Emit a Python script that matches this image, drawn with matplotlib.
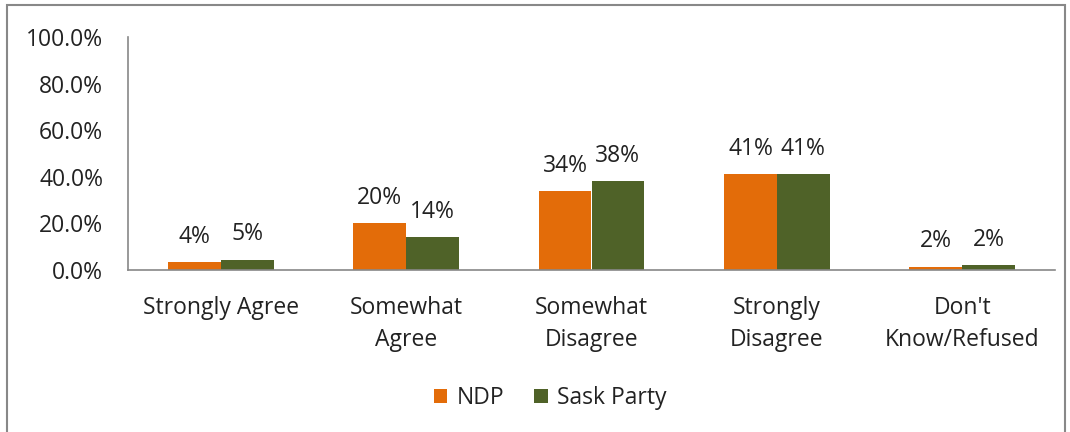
import matplotlib.pyplot as plt
import numpy as np
from matplotlib.patches import Rectangle
from matplotlib.ticker import PercentFormatter

categories = ["Strongly Agree", "Somewhat\nAgree", "Somewhat\nDisagree", "Strongly\nDisagree", "Don't\nKnow/Refused"]
ndp = [3.5, 20, 34, 41, 1.5]
sask = [4.5, 14, 38, 41, 2]
ndp_labels = ["4%", "20%", "34%", "41%", "2%"]
sask_labels = ["5%", "14%", "38%", "41%", "2%"]

plt.rcParams['font.family'] = ['Open Sans', 'DejaVu Sans']
fs = 16.5

fig = plt.figure(figsize=(10.7, 4.32), dpi=100)
ax = fig.add_axes([128/1070, 1 - 270/432, (1055 - 128)/1070, (270 - 37)/432])

x = np.arange(len(categories))
w = 0.285
b1 = ax.bar(x - w/2, ndp, w, color="#E36C09", label="NDP")
b2 = ax.bar(x + w/2, sask, w, color="#4F6228", label="Sask Party")

for bars, labels in ((b1, ndp_labels), (b2, sask_labels)):
    for bar, lab in zip(bars, labels):
        ax.annotate(lab, (bar.get_x() + bar.get_width()/2, bar.get_height()),
                    xytext=(0, 9.5), textcoords="offset points",
                    ha="center", va="bottom", fontsize=fs, color="#222222")

ax.set_xlim(-0.5, len(categories) - 0.5)
ax.set_ylim(0, 100)
ax.set_yticks(range(0, 101, 20))
ax.yaxis.set_major_formatter(PercentFormatter(decimals=1))
ax.set_xticks(x)
ax.set_xticklabels(categories, fontsize=fs, linespacing=1.4)
ax.tick_params(axis="y", length=0, labelsize=fs, pad=18, labelcolor="#222222")
ax.tick_params(axis="x", length=0, pad=19, labelcolor="#222222")
for s in ("top", "right"):
    ax.spines[s].set_visible(False)
for s in ("left", "bottom"):
    ax.spines[s].set_color("#888888")
    ax.spines[s].set_linewidth(1.2)

fig.legend(handles=[b1, b2], loc="center", bbox_to_anchor=(550/1070, 1 - 398/432),
           ncol=2, frameon=False, fontsize=fs, handlelength=0.6, handleheight=0.6,
           handletextpad=0.4, columnspacing=1.3, labelcolor="#222222")

fig.patches.append(Rectangle((7/1070, -0.1), (1065 - 7)/1070, 1.1 - 5/432,
                             transform=fig.transFigure, fill=False,
                             edgecolor="#888888", linewidth=1.5))

fig.savefig("out.png", dpi=100)
